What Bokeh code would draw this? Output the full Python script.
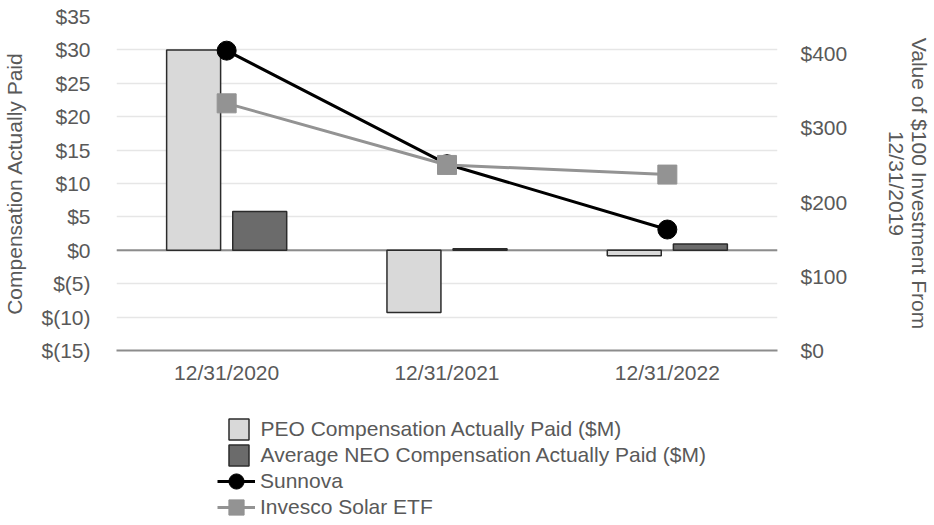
from bokeh.plotting import figure
from bokeh.layouts import column
from bokeh.models import (Range1d, LinearAxis, FixedTicker, Span, Legend, LegendItem,
                          FactorRange, ColumnDataSource)
from bokeh.transform import dodge
from bokeh.embed import file_html
from bokeh.resources import INLINE

categories = ["12/31/2020", "12/31/2021", "12/31/2022"]
peo_cap = [30.0, -9.3, -0.8]
neo_cap = [5.8, 0.25, 0.95]
sunnova = [404, 251, 163]
invesco = [333, 250, 237]

left_ticks = [-15, -10, -5, 0, 5, 10, 15, 20, 25, 30, 35]
left_tick_labels = ["$(15)", "$(10)", "$(5)", "$0", "$5", "$10", "$15", "$20", "$25", "$30", "$35"]
right_ticks = [0, 100, 200, 300, 400]
right_tick_labels = ["$0", "$100", "$200", "$300", "$400"]

FONT = "Liberation Sans"
TXT = "#595959"
FS = "21px"

src = ColumnDataSource(dict(cat=categories, peo=peo_cap, neo=neo_cap, sun=sunnova, inv=invesco))

p = figure(x_range=FactorRange(factors=categories), y_range=Range1d(-15, 35),
           width=934, height=400, output_backend="svg", toolbar_location=None,
           min_border_left=115, min_border_right=157, min_border_top=16, min_border_bottom=50)
p.extra_y_ranges = {"right": Range1d(0, 450)}
p.outline_line_color = None
p.background_fill_color = "white"
p.frame_align = False

# grid
p.xgrid.grid_line_color = None
p.ygrid.grid_line_color = "#e6e6e6"
p.ygrid.grid_line_width = 1.5

# axes
p.yaxis.ticker = FixedTicker(ticks=left_ticks)
p.yaxis.major_label_overrides = dict(zip(left_ticks, left_tick_labels))
for ax in [p.yaxis[0], p.xaxis[0]]:
    ax.major_tick_line_color = None
    ax.minor_tick_line_color = None
    ax.major_tick_out = 0
    ax.major_tick_in = 0
    ax.minor_tick_out = 0
    ax.major_label_text_font = FONT
    ax.major_label_text_font_size = FS
    ax.major_label_text_color = TXT
p.yaxis.axis_line_color = None
p.yaxis.major_label_standoff = 26
p.yaxis.axis_label = "Compensation Actually Paid"
p.yaxis.axis_label_text_font = FONT
p.yaxis.axis_label_text_font_size = FS
p.yaxis.axis_label_text_font_style = "normal"
p.yaxis.axis_label_text_color = TXT
p.yaxis.axis_label_standoff = 12

p.xaxis.axis_line_color = "#8c8c8c"
p.xaxis.axis_line_width = 2
p.xaxis.major_label_standoff = 10

rax = LinearAxis(y_range_name="right", ticker=FixedTicker(ticks=right_ticks))
rax.major_label_overrides = dict(zip(right_ticks, right_tick_labels))
rax.major_tick_line_color = None
rax.minor_tick_line_color = None
rax.major_tick_out = 0
rax.major_tick_in = 0
rax.minor_tick_out = 0
rax.axis_line_color = None
rax.major_label_text_font = FONT
rax.major_label_text_font_size = FS
rax.major_label_text_color = TXT
rax.major_label_standoff = 23
rax.axis_label = "Value of $100 Investment From\n12/31/2019"
rax.axis_label_text_font = FONT
rax.axis_label_text_font_size = FS
rax.axis_label_text_font_style = "normal"
rax.axis_label_text_color = TXT
rax.axis_label_text_align = "center"
rax.axis_label_text_line_height = 1.0
rax.axis_label_standoff = 35
p.add_layout(rax, "right")

zero = Span(location=0, dimension="width", line_color="#8c8c8c", line_width=2, level="underlay")
p.add_layout(zero)

PEO_STYLE = dict(fill_color="#d9d9d9", line_color="#2b2b2b", line_width=1.5)
NEO_STYLE = dict(fill_color="#6b6b6b", line_color="#2b2b2b", line_width=1.5)
SUN_LINE = dict(line_color="black", line_width=3)
SUN_MARK = dict(marker="circle", size=19, fill_color="black", line_color="black")
INV_LINE = dict(line_color="#939393", line_width=3)
INV_MARK = dict(marker="square", size=19, fill_color="#939393", line_color="#939393")


def draw(fig, visible=True):
    r = {}
    r["peo"] = fig.vbar(x=dodge("cat", -0.15, range=fig.x_range), top="peo", bottom=0, width=0.245,
                        source=src, visible=visible, **PEO_STYLE)
    r["neo"] = fig.vbar(x=dodge("cat", 0.15, range=fig.x_range), top="neo", bottom=0, width=0.245,
                        source=src, visible=visible, **NEO_STYLE)
    r["sun_l"] = fig.line(x="cat", y="sun", source=src, y_range_name="right", visible=visible, **SUN_LINE)
    r["sun_m"] = fig.scatter(x="cat", y="sun", source=src, y_range_name="right", visible=visible, **SUN_MARK)
    r["inv_l"] = fig.line(x="cat", y="inv", source=src, y_range_name="right", visible=visible, **INV_LINE)
    r["inv_m"] = fig.scatter(x="cat", y="inv", source=src, y_range_name="right", visible=visible, **INV_MARK)
    return r


draw(p)

# legend strip below the chart (its renderers are hidden; only legend glyphs show)
lf = figure(x_range=p.x_range, y_range=Range1d(-15, 35), width=934, height=125,
            output_backend="svg", toolbar_location=None, x_axis_location=None, y_axis_location=None,
            min_border_left=0, min_border_right=0, min_border_top=0, min_border_bottom=0)
lf.extra_y_ranges = {"right": Range1d(0, 450)}
lf.outline_line_color = None
lf.frame_align = False
lf.xgrid.grid_line_color = None
lf.ygrid.grid_line_color = None
lr = draw(lf, visible=False)

common = dict(orientation="vertical", padding=0, margin=0, spacing=0,
              border_line_color=None, background_fill_alpha=0,
              label_text_font=FONT, label_text_font_size=FS, label_text_color=TXT)

leg_a = Legend(items=[LegendItem(label="PEO Compensation Actually Paid ($M)", renderers=[lr["peo"]]),
                      LegendItem(label="Average NEO Compensation Actually Paid ($M)", renderers=[lr["neo"]])],
               location=(225.5, 57), glyph_width=25, glyph_height=26, label_height=26,
               label_standoff=10, **common)
leg_b1 = Legend(items=[LegendItem(label="Sunnova", renderers=[lr["sun_l"], lr["sun_m"]])],
                location=(217, 23), glyph_width=38, glyph_height=42, label_height=26,
                label_standoff=5, **common)
leg_b2 = Legend(items=[LegendItem(label="Invesco Solar ETF", renderers=[lr["inv_l"], lr["inv_m"]])],
                location=(217, -3), glyph_width=38, glyph_height=42, label_height=26,
                label_standoff=5, **common)
lf.add_layout(leg_a)
lf.add_layout(leg_b1)
lf.add_layout(leg_b2)

layout = column(p, lf, spacing=0)
open("out.html", "w").write(file_html(layout, INLINE))
